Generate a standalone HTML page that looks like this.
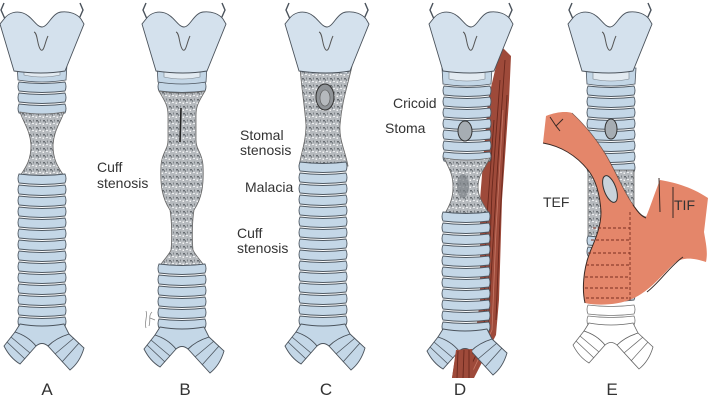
<!DOCTYPE html>
<html><head><meta charset="utf-8"><style>
html,body{margin:0;padding:0;background:#fff;}
svg{display:block;}
text{font-family:"Liberation Sans",Arial,sans-serif;fill:#333;}
</style></head><body>
<svg width="720" height="404" viewBox="0 0 720 404" xmlns="http://www.w3.org/2000/svg">
<defs>
<pattern id="tx" width="7" height="7" patternUnits="userSpaceOnUse">
<rect width="7" height="7" fill="#b6babe"/>
<rect x="1" y="1" width="2" height="1.5" fill="#676c71"/>
<rect x="4" y="4" width="2" height="1" fill="#eceef0"/>
<rect x="5" y="0.5" width="1" height="2" fill="#80858a"/>
<rect x="0.5" y="4.5" width="1.5" height="1.5" fill="#f3f3f3"/>
<rect x="3" y="2.5" width="1" height="1" fill="#50555a"/>
</pattern>
<g id="thy">
<path d="M-37,19 L-41,10 L-38,3" fill="none" stroke="#4a525b" stroke-width="1.4"/>
<path d="M37,19 L41,10 L38,3" fill="none" stroke="#4a525b" stroke-width="1.4"/>
<path d="M-38,19 C-33,12 -25,11 -19,13 C-10,16 -6,27 0,27 C6,27 10,13 19,12 C28,11 35,14 39,19 L42,24 L23,71 Q0,75 -28,71 L-42,24 Z" fill="#d4e1ed" stroke="#4a525b" stroke-width="0.9"/>
<path d="M-8,32 C-4,33 -5,47 -1,50 C2,52 3,42 6,36" fill="none" stroke="#555" stroke-width="1"/>
</g>
<g id="cri">
<path d="M-25,4 L25,4 L24,20 Q0,24 -24,20 Z" fill="#c3d6e6" stroke="#4d5660" stroke-width="0.8"/>
<path d="M-18,8 Q0,3 18,8 L18,15 Q0,19 -18,15 Z" fill="#e2eaf1" stroke="#7a838c" stroke-width="0.6"/>
</g>
<path id="rg" d="M-23,0 Q0,3 23,0 Q25,4.5 23,9 Q0,12 -23,9 Q-25,4.5 -23,0 Z" fill="#c4d7e7" stroke="#4f5963" stroke-width="0.9"/>
<path id="rgw" d="M-23,0 Q0,3 23,0 Q25,4.5 23,9 Q0,12 -23,9 Q-25,4.5 -23,0 Z" fill="#fff" stroke="#777" stroke-width="0.8"/>
<g id="br">
<path d="M-27,8 L-38,22 Q-32,34 -22,40 L-6,22 Q-14,12 -27,8 Z" fill="#c4d7e7" stroke="#4b535c" stroke-width="0.9"/>
<path d="M-31,13 L-12,29 M-35,18 L-17,35" fill="none" stroke="#4b535c" stroke-width="0.8"/>
<path d="M27,10 L42,24 Q38,38 28,46 L6,22 Q14,14 27,10 Z" fill="#c4d7e7" stroke="#4b535c" stroke-width="0.9"/>
<path d="M32,14 L13,30 M37,19 L20,38" fill="none" stroke="#4b535c" stroke-width="0.8"/>
<path d="M-22,0 Q0,4 22,0 L27,10 Q14,14 6,22 Q0,17 -6,22 Q-14,12 -27,8 Z" fill="#c4d7e7" stroke="#4b535c" stroke-width="0.9"/>
</g>
<g id="brw">
<path d="M-27,8 L-38,22 Q-32,34 -22,40 L-6,22 Q-14,12 -27,8 Z" fill="#fff" stroke="#666" stroke-width="0.8"/>
<path d="M-31,13 L-12,29 M-35,18 L-17,35" fill="none" stroke="#666" stroke-width="0.7"/>
<path d="M27,10 L42,24 Q38,38 28,46 L6,22 Q14,14 27,10 Z" fill="#fff" stroke="#666" stroke-width="0.8"/>
<path d="M32,14 L13,30 M37,19 L20,38" fill="none" stroke="#666" stroke-width="0.7"/>
<path d="M-22,0 Q0,4 22,0 L27,10 Q14,14 6,22 Q0,17 -6,22 Q-14,12 -27,8 Z" fill="#fff" stroke="#666" stroke-width="0.8"/>
</g>
</defs>

<!-- ===== A ===== -->
<g transform="translate(42 0)">
<use href="#rg" y="82"/><use href="#rg" y="93"/><use href="#rg" y="104"/>
</g>
<path d="M20,112 Q42,116 64,112 C60,124 54,130 53,145 C53,160 58,167 64,176 L20,176 C26,167 31,160 31,145 C30,130 24,124 20,112 Z" fill="url(#tx)" stroke="#666" stroke-width="0.8"/>
<g transform="translate(42 0)">
<use href="#rg" y="174"/><use href="#rg" y="185"/><use href="#rg" y="196"/><use href="#rg" y="207"/><use href="#rg" y="218"/><use href="#rg" y="229"/><use href="#rg" y="240"/><use href="#rg" y="251"/><use href="#rg" y="262"/><use href="#rg" y="273"/><use href="#rg" y="284"/><use href="#rg" y="295"/><use href="#rg" y="306"/><use href="#rg" y="317"/>
</g>
<use href="#br" transform="translate(42 324)"/>
<use href="#cri" transform="translate(42 60)"/>
<use href="#thy" transform="translate(42 0)"/>

<!-- ===== B ===== -->
<g transform="translate(182 0)"><use href="#rg" y="82"/></g>
<path d="M159,91 Q182,95 205,91 C200,100 196,105 196,115 L196,140 C196,150 202,152 203,165 C204,185 202,198 194,210 C192,222 192,240 193,250 C197,258 203,262 205,268 L159,268 C161,262 167,258 171,250 C172,240 172,222 170,210 C162,198 160,185 161,165 C162,152 168,150 168,140 L168,115 C168,105 164,100 159,91 Z" fill="url(#tx)" stroke="#666" stroke-width="0.8"/>
<path d="M181,108 L180,142" stroke="#222" stroke-width="1.6"/>
<g transform="translate(182 0)">
<use href="#rg" y="264"/><use href="#rg" y="275"/><use href="#rg" y="286"/><use href="#rg" y="297"/><use href="#rg" y="308"/><use href="#rg" y="319"/>
</g>
<use href="#br" transform="translate(182 327)"/>
<use href="#cri" transform="translate(182 62)"/>
<use href="#thy" transform="translate(184 0)"/>
<path d="M146,328 C144,322 148,316 146,311 M149,326 C151,320 148,316 152,312 M150,318 L155,320" fill="none" stroke="#888" stroke-width="0.8"/>

<!-- ===== C ===== -->
<path d="M300,66 Q327,72 352,66 C348,85 342,100 340,125 C339,140 345,150 348,166 L299,166 C302,150 306,140 306,125 C304,100 301,85 300,66 Z" fill="url(#tx)" stroke="#666" stroke-width="0.8"/>
<ellipse cx="325" cy="97" rx="9" ry="13" fill="#8f9397" stroke="#333" stroke-width="1"/>
<ellipse cx="325" cy="98" rx="5" ry="8" fill="#b5b9bd" stroke="#555" stroke-width="0.6"/>
<g transform="translate(323 0)">
<use href="#rg" y="162"/><use href="#rg" y="173"/><use href="#rg" y="184"/><use href="#rg" y="195"/><use href="#rg" y="206"/><use href="#rg" y="217"/><use href="#rg" y="228"/><use href="#rg" y="239"/><use href="#rg" y="250"/><use href="#rg" y="261"/><use href="#rg" y="272"/><use href="#rg" y="283"/><use href="#rg" y="294"/><use href="#rg" y="305"/><use href="#rg" y="316"/>
</g>
<use href="#br" transform="translate(323 324)"/>
<path d="M308,68 Q327,63 348,68 L347,74 Q327,70 309,74 Z" fill="#e2eaf1" stroke="#7a838c" stroke-width="0.6"/>
<use href="#thy" transform="translate(327 0)"/>

<!-- ===== D ===== -->
<path d="M503,48 L511,56 L509,100 L502,200 L499,300 L496,335 L474,378 L452,378 L457,345 L476,330 L480,300 L480,200 L488,100 L497,62 Z" fill="#9e4a3a"/>
<path d="M505,60 L498,160 L492,260 L488,330 L466,376 M500,80 L492,190 L488,300 L482,335 L460,377 M507,95 L500,220 L496,320 M494,120 L486,230 L484,320" fill="none" stroke="#6a281d" stroke-width="0.9"/>
<path d="M503,110 L496,230 L492,330 L470,377" fill="none" stroke="#c77a68" stroke-width="0.8"/>
<g transform="translate(467 0)">
<use href="#rg" y="86"/><use href="#rg" y="97"/><use href="#rg" y="108"/><use href="#rg" y="119"/><use href="#rg" y="130"/><use href="#rg" y="141"/><use href="#rg" y="152"/>
</g>
<ellipse cx="465" cy="131" rx="7" ry="10" fill="#a6adb3" stroke="#333" stroke-width="1"/>
<path d="M444,158 Q467,162 490,158 C484,170 478,175 478,187 C478,198 484,205 490,215 L444,215 C450,205 453,198 453,187 C453,175 450,170 444,158 Z" fill="url(#tx)" stroke="#666" stroke-width="0.8"/>
<ellipse cx="463" cy="186" rx="6" ry="12" fill="#7c8186" opacity="0.7"/>
<g transform="translate(466 0)">
<use href="#rg" y="212"/><use href="#rg" y="223"/><use href="#rg" y="234"/><use href="#rg" y="245"/><use href="#rg" y="256"/><use href="#rg" y="267"/><use href="#rg" y="278"/><use href="#rg" y="289"/><use href="#rg" y="300"/><use href="#rg" y="311"/><use href="#rg" y="322"/>
</g>
<use href="#br" transform="translate(465 329)"/>
<path d="M456,350 L472,349 L474,378 L452,378 Z" fill="#9e4a3a"/>
<path d="M458,351 L457,378 M464,350 L463,378 M469,350 L469,378" stroke="#6a281d" stroke-width="0.9"/>
<use href="#cri" transform="translate(467 64)"/>
<use href="#thy" transform="translate(471 0)"/>

<!-- ===== E ===== -->
<g transform="translate(611 0)">
<use href="#rg" y="86"/><use href="#rg" y="97"/><use href="#rg" y="108"/><use href="#rg" y="119"/><use href="#rg" y="130"/><use href="#rg" y="141"/><use href="#rg" y="152"/><use href="#rg" y="163"/>
</g>
<ellipse cx="611" cy="129" rx="6" ry="10" fill="#a6adb3" stroke="#333" stroke-width="1"/>
<path d="M588,170 L634,170 L634,240 L588,240 Z" fill="url(#tx)" stroke="#666" stroke-width="0.8"/>
<g transform="translate(611 0)">
<use href="#rg" y="236"/><use href="#rg" y="247"/><use href="#rg" y="258"/><use href="#rg" y="269"/><use href="#rg" y="280"/><use href="#rg" y="291"/>
</g>
<path d="M546,116 C556,112 566,111 572,113 C585,125 597,140 606,155 C616,172 624,192 632,203 C637,211 641,216 646,217 C650,208 655,192 660,180 C672,182 690,186 708,198 L704,232 C706,244 708,252 706,262 C694,258 684,257 676,262 C664,272 652,290 632,299 C618,305 598,306 585,303 C582,290 583,270 590,252 C596,238 601,226 601,212 C600,195 596,180 588,170 C576,155 560,146 543,143 Z" fill="#e4866a"/>
<path d="M543,143 C560,146 576,155 588,170 C596,180 600,195 601,212 C601,226 596,238 590,252 C583,270 582,290 585,303" fill="none" stroke="#3a2a25" stroke-width="1"/>
<path d="M572,113 C585,125 597,140 606,155 C616,172 624,192 632,203 C637,211 641,216 646,217" fill="none" stroke="#3a2a25" stroke-width="0.8" opacity="0.6"/>
<path d="M633,205 C638,212 641,216 646,218" fill="none" stroke="#3a2a25" stroke-width="1"/>
<path d="M683,257 C670,266 660,282 647,292" fill="none" stroke="#3a2a25" stroke-width="1"/>
<path d="M673,187 L673,218 M659,178 L660,212" fill="none" stroke="#3a2a25" stroke-width="1"/>
<path d="M550,117 L556,126 L563,119 M556,126 L560,131" fill="none" stroke="#3a2a25" stroke-width="1"/>
<path d="M593,228 L630,228 M591,240 L630,240 M588,253 L630,253 M586,265 L630,265 M585,277 L630,277 M585,288 L630,288 M586,298 L628,298 M630,212 L630,300" fill="none" stroke="#7a2e20" stroke-width="0.9" stroke-dasharray="3 2"/>
<ellipse cx="610" cy="189" rx="6" ry="14" transform="rotate(-20 610 189)" fill="#c9d3db" stroke="#333" stroke-width="1"/>
<g transform="translate(611 0)">
<use href="#rgw" y="305"/><use href="#rgw" y="316"/>
</g>
<use href="#brw" transform="translate(611 323)"/>
<use href="#cri" transform="translate(611 64)"/>
<use href="#thy" transform="translate(610 0)"/>

<!-- ===== Labels ===== -->
<g font-size="14">
<text x="97" y="172">Cuff</text>
<text x="97" y="188">stenosis</text>
<text x="240" y="140">Stomal</text>
<text x="240" y="155">stenosis</text>
<text x="245" y="192">Malacia</text>
<text x="237" y="238">Cuff</text>
<text x="237" y="253">stenosis</text>
<text x="393" y="108">Cricoid</text>
<text x="385" y="133">Stoma</text>
<text x="543" y="207">TEF</text>
<text x="674" y="210">TIF</text>
</g>
<g font-size="17" text-anchor="middle">
<text x="47" y="395">A</text>
<text x="185" y="395">B</text>
<text x="326" y="395">C</text>
<text x="460" y="395">D</text>
<text x="612" y="395">E</text>
</g>
</svg>
</body></html>
